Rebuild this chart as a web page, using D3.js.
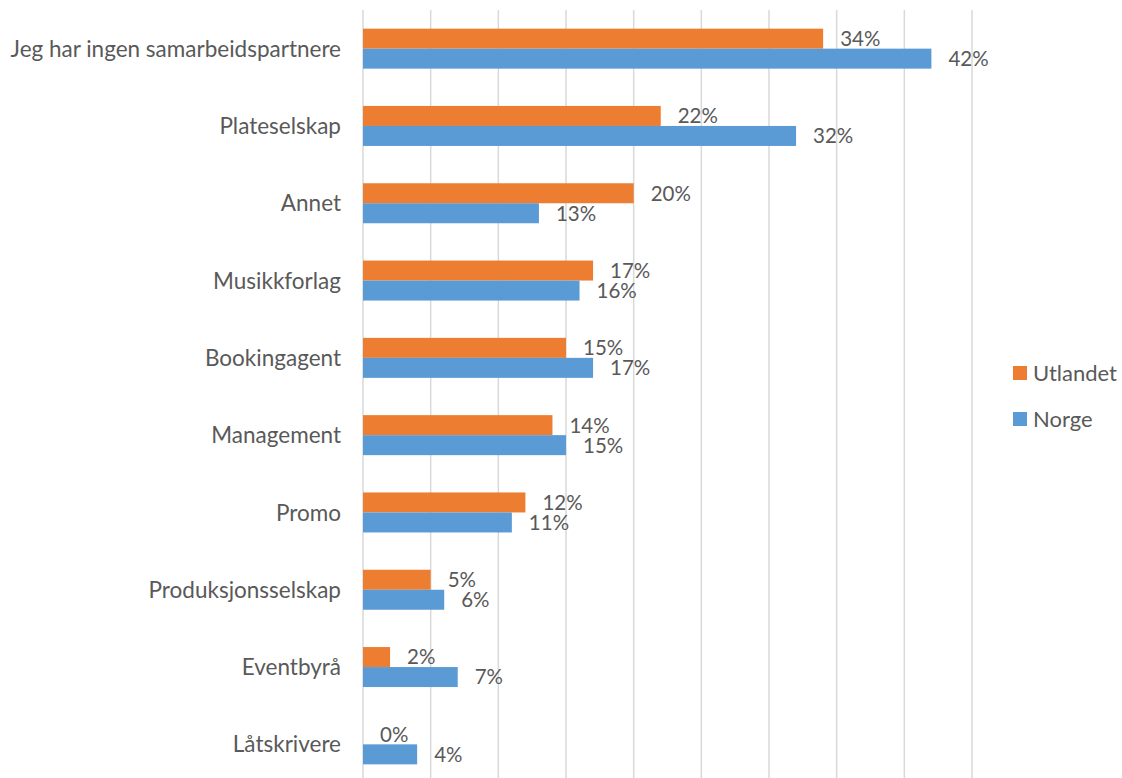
<!DOCTYPE html>
<html><head><meta charset="utf-8">
<script src="https://cdn.jsdelivr.net/npm/d3@7"></script>
<style>body{margin:0;background:#fff;} svg{display:block;font-family:Lato, "Open Sans", sans-serif;}</style>
</head><body>
<svg id="c" width="1122" height="778"></svg>
<script>
const categories = ["Jeg har ingen samarbeidspartnere","Plateselskap","Annet","Musikkforlag","Bookingagent","Management","Promo","Produksjonsselskap","Eventbyrå","Låtskrivere"];
const utlandet = [34,22,20,17,15,14,12,5,2,0];
const norge = [42,32,13,16,17,15,11,6,7,4];
const seriesNames = ["Utlandet","Norge"];
const colors = ["#ED7D31","#5B9BD5"];
const ticks = [0,5,10,15,20,25,30,35,40,45];

const svg = d3.select("#c");
const x = d3.scaleLinear().domain([0,45]).range([363,972]);
const y = d3.scaleBand().domain(categories).range([10,783]);
const inner = d3.scaleBand().domain(seriesNames).range([0,40]);
const textColor = "#595959";

svg.append("g").selectAll("line").data(ticks).join("line")
  .attr("x1",d=>x(d)).attr("x2",d=>x(d)).attr("y1",10).attr("y2",778)
  .attr("stroke","#D9D9D9").attr("stroke-width",1.5);

const series = [utlandet, norge];
categories.forEach((c,i)=>{
  const gy = y(c) + (y.bandwidth()-40)/2;
  series.forEach((s,j)=>{
    const yy = gy + inner(seriesNames[j]);
    svg.append("rect").attr("x",x(0)).attr("y",yy).attr("width",x(s[i])-x(0)).attr("height",inner.bandwidth())
      .attr("fill",colors[j]);
    svg.append("text").attr("x",x(s[i])+17).attr("y",yy+inner.bandwidth()/2).attr("dy","0.36em")
      .attr("fill",textColor).attr("font-size",20.5).text(s[i]+"%");
  });
  svg.append("text").attr("x",341).attr("y",y(c)+y.bandwidth()/2).attr("dy","0.36em")
    .attr("text-anchor","end").attr("fill",textColor).attr("font-size",22.5).text(c);
});

const lg = svg.append("g");
seriesNames.forEach((n,j)=>{
  lg.append("rect").attr("x",1013).attr("y",366+j*46).attr("width",14).attr("height",14).attr("fill",colors[j]);
  lg.append("text").attr("x",1033).attr("y",373+j*46).attr("dy","0.36em").attr("fill",textColor).attr("font-size",22).text(n);
});
</script>
</body></html>
